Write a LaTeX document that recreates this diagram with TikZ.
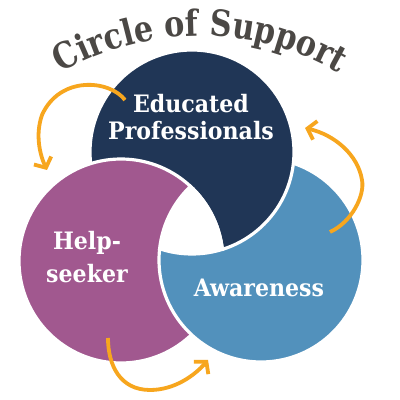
\documentclass[tikz,border=0pt]{standalone}
\usepackage{fontspec}
\setmainfont{DejaVu Serif}[FakeStretch=0.84]
\newfontfamily\labelfont{DejaVu Serif}[FakeStretch=0.92]
\usetikzlibrary{decorations.text,arrows.meta}

\definecolor{navy}{RGB}{32,54,86}
\definecolor{plum}{RGB}{161,88,143}
\definecolor{steel}{RGB}{82,145,188}
\definecolor{amber}{RGB}{247,166,30}
\definecolor{slate}{RGB}{75,72,69}

\begin{document}
\begin{tikzpicture}[x=1pt,y=1pt,font=\labelfont\bfseries\fontsize{24}{27}\selectfont]
\def\rad{102}
\def\gap{3.2}
\tikzset{
  swirl/.style={line width=3.8pt, draw=amber, line cap=butt,
    -{Straight Barb[length=8pt,width=19pt,line width=3.8pt]}},
  label/.style={text=white, align=center, inner sep=0pt}
}
\useasboundingbox (0,0) rectangle (400,400);
\fill[white] (0,0) rectangle (400,400);

\coordinate (navyc) at (192,248);
\coordinate (plumc) at (121,139);
\coordinate (steelc) at (261,140);

\fill[navy] (navyc) circle (\rad);
\filldraw[fill=plum, draw=white, line width=\gap] (plumc) circle (\rad);
\begin{scope}[even odd rule]
  \clip (0,0) rectangle (400,400) (navyc) circle (\rad);
  \filldraw[fill=steel, draw=white, line width=\gap] (steelc) circle (\rad);
\end{scope}
\begin{scope}[even odd rule]
  \clip (0,0) rectangle (400,400) (plumc) circle (\rad);
  \draw[white, line width=\gap] (navyc) circle (\rad);
\end{scope}
\begin{scope}
  \clip (navyc) circle (\rad+\gap/2);
  \clip (plumc) circle (\rad+\gap/2);
  \fill[white] (steelc) circle (\rad+\gap/2);
\end{scope}

\path[decorate, decoration={text along path, text align=center,
  text color=slate, text={|\rmfamily\fontsize{36}{40}\selectfont\bfseries|Circle of Support}}]
  (200,84) ++(150:280) arc (150:30:280);

\node[label] (educated) at (191,283) {Educated\\Professionals};
\node[label, font=\labelfont\bfseries\fontsize{24}{33}\selectfont] (helpseeker) at (87,143) {Help-\\seeker};
\node[label] (awareness) at (259,112) {Awareness};

\coordinate (a1) at (125,300);
\coordinate (b1) at (47,230);
\coordinate (a2) at (330,168);
\coordinate (b2) at (305,272);
\coordinate (a3) at (108,62);
\coordinate (b3) at (208,40);

\draw[swirl] (a1) .. controls (110,320) and (60,325) .. (42,285)
  .. controls (35,265) and (40,245) .. (b1);
\draw[swirl] (a2) .. controls (352,178) and (365,205) .. (362,220)
  .. controls (358,245) and (335,265) .. (b2);
\draw[swirl] (a3) .. controls (108,35) and (120,10) .. (150,10)
  .. controls (175,10) and (195,25) .. (b3);
\end{tikzpicture}
\end{document}
